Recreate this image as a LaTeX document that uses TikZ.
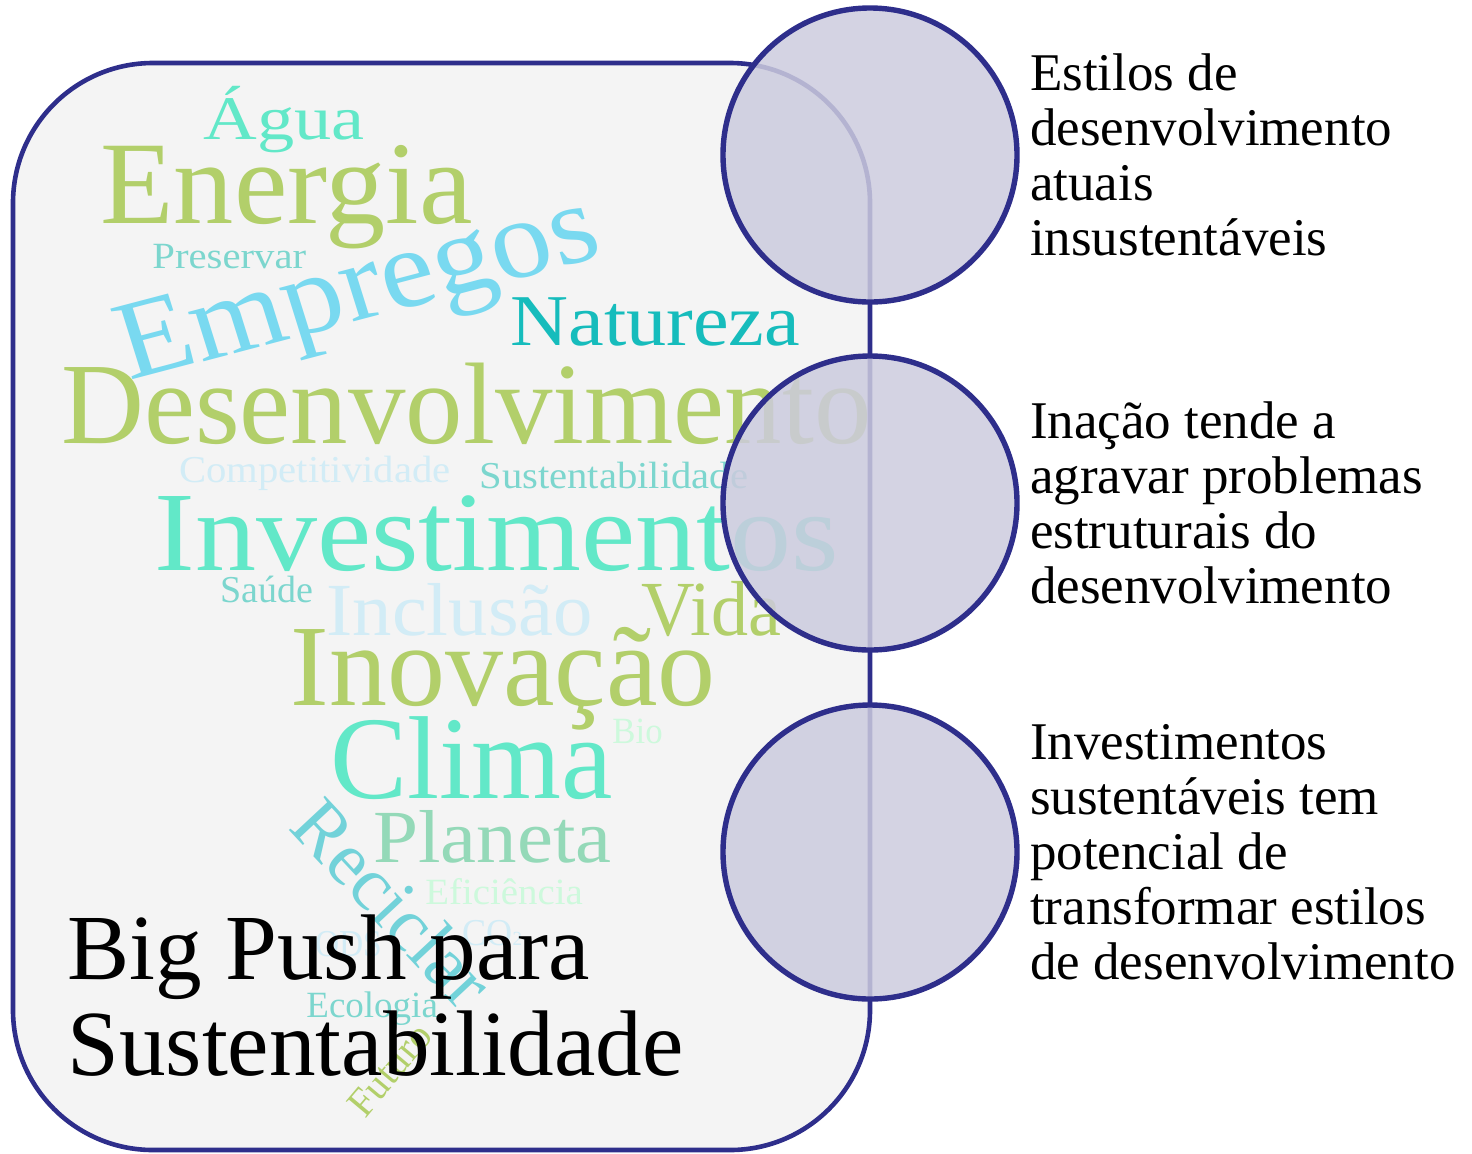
\documentclass[tikz,border=0pt]{standalone}
\usepackage{fontspec}
\setmainfont{Liberation Serif}
\usetikzlibrary{positioning}

\definecolor{navy}{RGB}{46,46,139}
\definecolor{panel}{RGB}{244,244,244}
\definecolor{bubblefill}{RGB}{204,203,222}
\definecolor{cgreen}{RGB}{178,207,106}
\definecolor{caqua}{RGB}{98,232,200}
\definecolor{csky}{RGB}{121,217,240}
\definecolor{cteal}{RGB}{22,188,188}
\definecolor{cmint}{RGB}{124,214,206}
\definecolor{cpaleblue}{RGB}{210,236,246}
\definecolor{cpalegreen}{RGB}{205,249,220}
\definecolor{cplaneta}{RGB}{148,217,184}
\definecolor{creciclar}{RGB}{114,210,217}

\newcommand{\fsz}[1]{\fontsize{#1}{#1}\selectfont}

\begin{document}
\begin{tikzpicture}[x=0.5pt,y=-0.5pt,
    word/.style={anchor=base west,inner sep=0pt},
    bubble/.style={circle,draw=navy,line width=2.7pt,fill=bubblefill,fill opacity=0.85,
      minimum size=147pt,inner sep=0pt},
    note/.style={align=left,inner sep=0pt,font=\fontsize{26.5}{27.5}\selectfont}]

    \useasboundingbox (0,0) rectangle (1472,1153);

    % Panel
    \draw[navy,line width=2.3pt,fill=panel,rounded corners=70pt] (13,63) rectangle (870,1150);

    % Word cloud
    \begin{scope}
        \clip[rounded corners=70pt] (13,63) rectangle (870,1150);
        \node[word,text=caqua,font=\fsz{31},xscale=1.2] (agua) at (203,139) {Água};
        \node[word,text=cgreen,font=\fsz{59},xscale=1.02] (energia) at (100,223) {Energia};
        \node[word,text=cmint,font=\fsz{18.5},xscale=1.1] (preservar) at (152,268) {Preservar};
        \node[word,text=csky,font=\fsz{56},xscale=1.09,rotate=16] (empregos) at (129,381) {Empregos};
        \node[word,text=cteal,font=\fsz{36.5},xscale=1.1] (natureza) at (510,345) {Natureza};
        \node[word,text=cgreen,font=\fsz{58},xscale=0.99] (desenv) at (61,443) {Desenvolvimento};
        \node[word,text=cpaleblue,font=\fsz{19},xscale=1.07] (compet) at (179,482) {Competitividade};
        \node[word,text=cmint,font=\fsz{19},xscale=1.07] (sustent) at (479,488) {Sustentabilidade};
        \node[word,text=caqua,font=\fsz{56.5},xscale=1.08] (invest) at (154,570) {Investimentos};
        \node[word,text=cmint,font=\fsz{19}] (saude) at (220,602) {Saúde};
        \node[word,text=cpaleblue,font=\fsz{37.5},xscale=1.05] (inclusao) at (326,635) {Inclusão};
        \node[word,text=cgreen,font=\fsz{39},xscale=0.95] (vida) at (641,635) {Vida};
        \node[word,text=cgreen,font=\fsz{58}] (inovacao) at (290,705) {Inovação};
        \node[word,text=cpalegreen,font=\fsz{18.5},xscale=0.94] (bio) at (612,743) {Bio};
        \node[word,text=caqua,font=\fsz{59},xscale=0.98] (clima) at (330,798) {Clima};
        \node[word,text=cplaneta,font=\fsz{37.5},xscale=1.08] (planeta) at (373,862) {Planeta};
        \node[word,text=cpalegreen,font=\fsz{18.5},xscale=1.05] (eficiencia) at (425,904) {Eficiência};
        \node[word,text=cpaleblue,font=\fsz{19},xscale=0.95] (co2) at (462,945) {CO{\fsz{10}2}};
        \node[word,text=cpaleblue,font=\fsz{19},xscale=0.88] (ods) at (315,956) {ODS};
        \node[inner sep=0pt,text=creciclar,font=\fsz{38},rotate=-47] (reciclar) at (393,903) {Reciclar};
        \node[word,text=cmint,font=\fsz{18.5}] (ecologia) at (306,1017) {Ecologia};
        \node[inner sep=0pt,text=cgreen,font=\fsz{20},rotate=50] (futuro) at (390,1070) {Futuro};
    \end{scope}

    % Title
    \node[anchor=north west,inner sep=0pt,align=left,font=\fontsize{46.6}{48}\selectfont]
        (title) at (67,914) {Big Push para\\Sustentabilidade};

    % Bubbles
    \node[bubble] (c1) at (870,155) {};
    \node[bubble] (c2) at (870,503) {};
    \node[bubble] (c3) at (870,852) {};

    \node[note,right=5pt of c1] (n1) {Estilos de\\desenvolvimento\\atuais\\insustentáveis};
    \node[note,right=5pt of c2] (n2) {Inação tende a\\agravar problemas\\estruturais do\\desenvolvimento};
    \node[note,right=5pt of c3] (n3) {Investimentos\\sustentáveis tem\\potencial de\\transformar estilos\\de desenvolvimento};
\end{tikzpicture}
\end{document}
